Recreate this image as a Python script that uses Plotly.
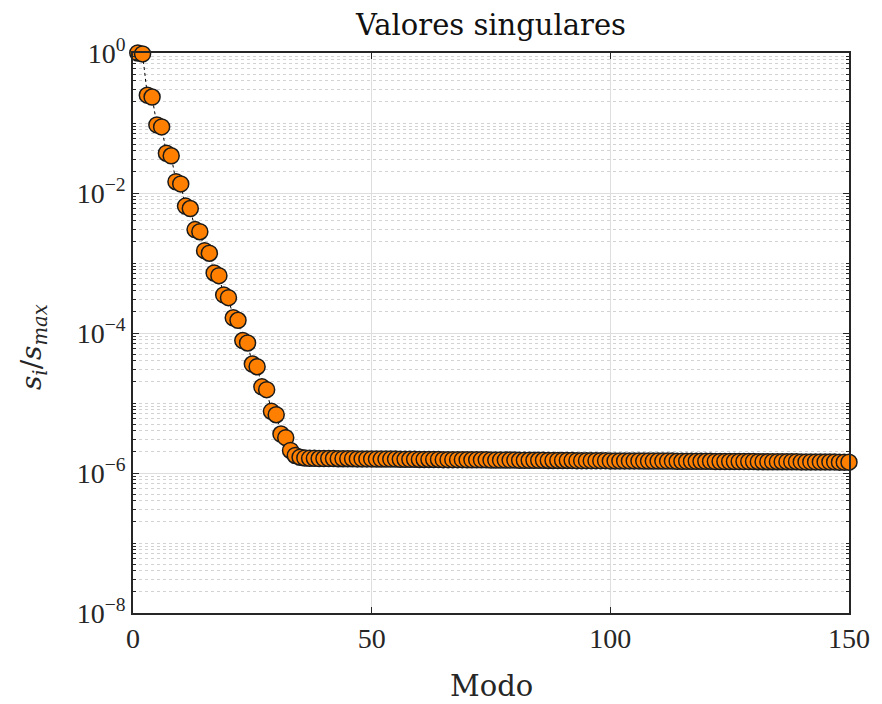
import plotly.graph_objects as go

# Mode indices
modes = list(range(1, 151))

# Normalised singular values s_i/s_max
head_values = [
    1.0, 0.97, 0.25, 0.235, 0.094, 0.088, 0.037, 0.034, 0.0145, 0.0135,
    0.0065, 0.0060, 0.0030, 0.0028, 0.0015, 0.00138, 7.2e-4, 6.6e-4, 3.5e-4, 3.2e-4,
    1.65e-4, 1.52e-4, 7.8e-5, 7.2e-5, 3.6e-5, 3.3e-5, 1.7e-5, 1.55e-5, 7.6e-6, 6.8e-6,
    3.6e-6, 3.2e-6, 2.1e-6, 1.78e-6, 1.68e-6, 1.64e-6,
]
tail_values = [
    1.62e-6, 1.62e-6, 1.61e-6, 1.61e-6, 1.61e-6, 1.61e-6, 1.60e-6, 1.60e-6, 1.60e-6, 1.60e-6,
    1.59e-6, 1.59e-6, 1.59e-6, 1.59e-6, 1.58e-6, 1.58e-6, 1.58e-6, 1.58e-6, 1.58e-6, 1.57e-6,
    1.57e-6, 1.57e-6, 1.57e-6, 1.56e-6, 1.56e-6, 1.56e-6, 1.56e-6, 1.56e-6, 1.55e-6, 1.55e-6,
    1.55e-6, 1.55e-6, 1.55e-6, 1.54e-6, 1.54e-6, 1.54e-6, 1.54e-6, 1.54e-6, 1.53e-6, 1.53e-6,
    1.53e-6, 1.53e-6, 1.53e-6, 1.53e-6, 1.52e-6, 1.52e-6, 1.52e-6, 1.52e-6, 1.52e-6, 1.52e-6,
    1.51e-6, 1.51e-6, 1.51e-6, 1.51e-6, 1.51e-6, 1.51e-6, 1.50e-6, 1.50e-6, 1.50e-6, 1.50e-6,
    1.50e-6, 1.50e-6, 1.50e-6, 1.49e-6, 1.49e-6, 1.49e-6, 1.49e-6, 1.49e-6, 1.49e-6, 1.49e-6,
    1.48e-6, 1.48e-6, 1.48e-6, 1.48e-6, 1.48e-6, 1.48e-6, 1.48e-6, 1.47e-6, 1.47e-6, 1.47e-6,
    1.47e-6, 1.47e-6, 1.47e-6, 1.47e-6, 1.47e-6, 1.46e-6, 1.46e-6, 1.46e-6, 1.46e-6, 1.46e-6,
    1.46e-6, 1.46e-6, 1.46e-6, 1.46e-6, 1.45e-6, 1.45e-6, 1.45e-6, 1.45e-6, 1.45e-6, 1.45e-6,
    1.45e-6, 1.45e-6, 1.45e-6, 1.44e-6, 1.44e-6, 1.44e-6, 1.44e-6, 1.44e-6, 1.44e-6, 1.44e-6,
    1.44e-6, 1.43e-6, 1.43e-6, 1.43e-6,
]
values = head_values + tail_values

x_ticks = [0, 50, 100, 150]
y_ticks = [1e0, 1e-2, 1e-4, 1e-6, 1e-8]
y_tick_labels = ["10<sup>0</sup>", "10<sup>\u22122</sup>", "10<sup>\u22124</sup>",
                 "10<sup>\u22126</sup>", "10<sup>\u22128</sup>"]
y_minor = [k * 10.0 ** e for e in range(-8, 0) for k in range(1, 10)
           if not (k == 1 and e % 2 == 0)]

TICK_FONT = "Liberation Serif"
LABEL_FONT = "DejaVu Serif"
AX = "#262626"

fig = go.Figure()
fig.add_trace(go.Scatter(
    x=modes[:len(values)], y=values,
    mode="lines+markers",
    line=dict(color="black", width=1, dash="dot"),
    marker=dict(symbol="circle", size=16, color="#FF8000",
                line=dict(color="#1a1a1a", width=1.5)),
    showlegend=False, cliponaxis=False,
))

fig.update_layout(
    width=874, height=696,
    margin=dict(l=125, r=24, t=45, b=91),
    paper_bgcolor="white", plot_bgcolor="white",
    font=dict(family=TICK_FONT, color=AX, size=28),
    title=dict(text="Valores singulares", x=0.5, xanchor="center",
               xref="paper", y=1 - 17 / 696, yanchor="middle",
               font=dict(family=LABEL_FONT, size=29, color="#111111")),
    xaxis=dict(
        range=[0, 150], tickvals=x_ticks, ticks="inside", ticklen=6,
        tickcolor=AX, showline=True, linecolor=AX, linewidth=1.5,
        mirror="allticks", showgrid=True, gridcolor="#dedede", gridwidth=1,
        zeroline=False, tickfont=dict(size=28, family=TICK_FONT),
    ),
    yaxis=dict(
        type="log", range=[-8, 0], tickvals=y_ticks, ticktext=y_tick_labels,
        ticks="inside", ticklen=6, tickcolor=AX,
        showline=True, linecolor=AX, linewidth=1.5, mirror="allticks",
        showgrid=True, gridcolor="#dedede", gridwidth=1, zeroline=False,
        tickfont=dict(size=28, family=TICK_FONT),
        minor=dict(tickvals=y_minor, ticks="inside", ticklen=3, tickcolor=AX,
                   showgrid=True, gridcolor="#d2d2d2", griddash="dot", gridwidth=1),
    ),
    annotations=[
        dict(text="Modo", xref="paper", yref="paper", x=0.5, y=0,
             yshift=-73, xanchor="center", yanchor="middle", showarrow=False,
             font=dict(family=LABEL_FONT, size=29, color=AX)),
        dict(text="<i>s<sub>i</sub></i>/<i>s<sub>max</sub></i>",
             xref="paper", yref="paper", x=0, y=0.5, xshift=-100, yshift=-14,
             xanchor="center", yanchor="middle", textangle=-90, showarrow=False,
             font=dict(family=LABEL_FONT, size=28, color=AX)),
    ],
)

fig.write_html("out.html")
